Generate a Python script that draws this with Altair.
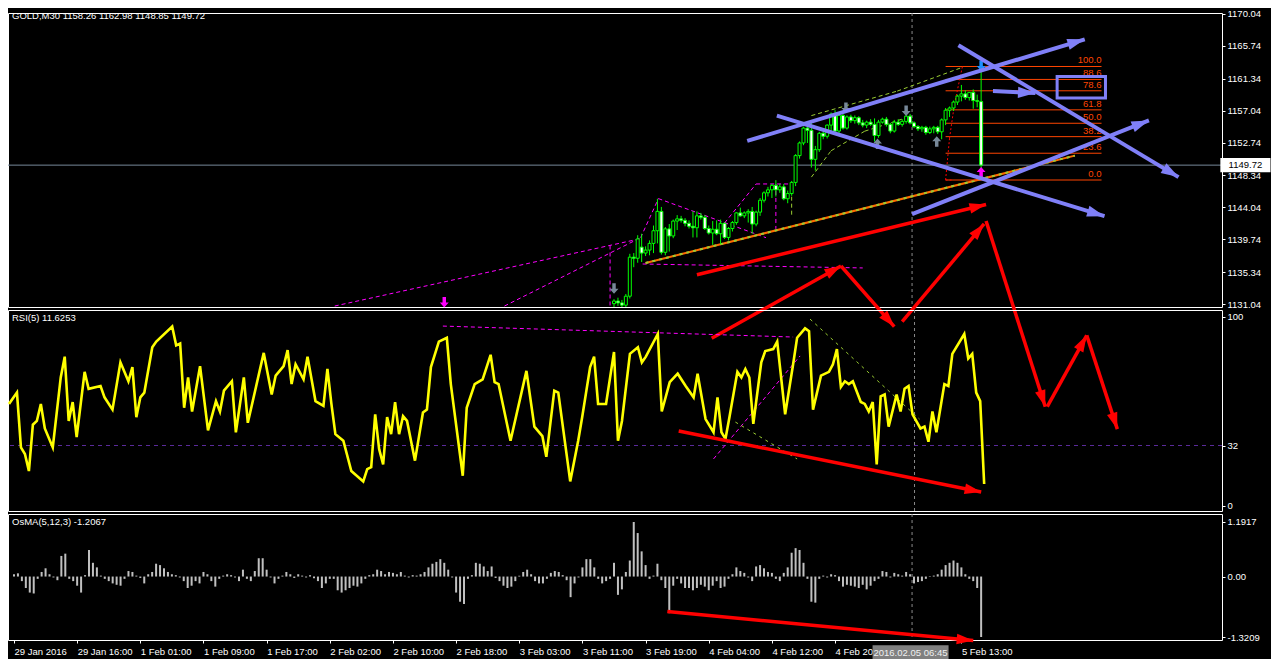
import math
import altair as alt
import pandas as pd

# ============================ data ============================
header_price = "GOLD,M30  1158.26 1162.98 1148.85 1149.72"
header_rsi = "RSI(5) 11.6253"
header_osma = "OsMA(5,12,3) -1.2067"

# bar index: one M30 bar per step, 0 = first bar on screen
date_tick_bars = [0, 16, 32, 48, 64, 80, 96, 112, 128, 144, 160, 176, 192, 208, 240]
date_tick_labels = ["29 Jan 2016", "29 Jan 16:00", "1 Feb 01:00", "1 Feb 09:00", "1 Feb 17:00",
                    "2 Feb 02:00", "2 Feb 10:00", "2 Feb 18:00", "3 Feb 03:00", "3 Feb 11:00",
                    "3 Feb 19:00", "4 Feb 04:00", "4 Feb 12:00", "4 Feb 20", "5 Feb 13:00"]
price_ticks = [1131.04, 1135.34, 1139.74, 1144.04, 1148.34, 1152.74, 1157.04, 1161.34, 1165.74, 1170.04]
rsi_ticks = [0, 32, 100]
osma_ticks = [-1.3209, 0.0, 1.1917]
osma_tick_labels = ["-1.3209", "0.00", "1.1917"]

last_price = 1149.72
crosshair_bar = 227.5
crosshair_label = "2016.02.05 06:45"
rsi_level = 32

candle_bar = list(range(152, 246))
candle_open = [1131.10, 1131.45, 1131.20, 1130.90, 1132.10, 1137.35, 1137.20, 1138.70, 1137.90, 1138.30,
               1139.20, 1140.90, 1143.50, 1138.00, 1141.15, 1140.20, 1142.20, 1142.50, 1142.30, 1141.90,
               1141.50, 1141.30, 1142.90, 1142.70, 1141.20, 1140.60, 1141.10, 1140.50, 1141.90, 1140.00,
               1141.20, 1142.00, 1143.30, 1142.90, 1143.30, 1143.50, 1141.80, 1143.40, 1145.00, 1146.00,
               1146.40, 1147.00, 1146.40, 1146.80, 1145.20, 1145.90, 1147.40, 1151.00, 1152.70, 1154.70,
               1154.40, 1150.50, 1151.80, 1154.00, 1153.60, 1155.10, 1156.60, 1154.30, 1156.40, 1154.70,
               1156.20, 1155.70, 1156.10, 1155.40, 1155.10, 1155.50, 1155.20, 1153.70, 1155.50, 1155.90,
               1155.20, 1154.30, 1155.50, 1155.20, 1155.60, 1156.30, 1155.40, 1154.90, 1154.60, 1154.80,
               1154.10, 1154.60, 1154.80, 1154.20, 1155.80, 1157.10, 1157.40, 1158.20, 1159.00, 1159.30,
               1158.80, 1159.50, 1158.40, 1158.26]
candle_high = [1131.70, 1131.90, 1131.60, 1132.40, 1137.80, 1137.90, 1140.30, 1140.50, 1138.80, 1139.60,
               1141.60, 1145.20, 1144.10, 1141.40, 1141.80, 1142.40, 1143.00, 1142.90, 1142.60, 1142.30,
               1143.50, 1143.50, 1143.30, 1143.00, 1141.60, 1142.20, 1142.30, 1142.40, 1142.00, 1141.40,
               1142.20, 1143.40, 1144.00, 1143.50, 1143.80, 1144.10, 1143.60, 1145.30, 1146.20, 1146.80,
               1147.20, 1147.70, 1147.20, 1147.20, 1146.30, 1147.60, 1151.20, 1152.90, 1154.90, 1155.10,
               1155.60, 1152.30, 1154.20, 1154.40, 1155.20, 1156.80, 1157.10, 1156.80, 1156.60, 1156.40,
               1156.50, 1156.40, 1156.30, 1155.80, 1155.70, 1155.90, 1156.00, 1155.80, 1156.10, 1156.20,
               1155.40, 1155.80, 1155.90, 1155.90, 1156.60, 1156.60, 1155.60, 1155.10, 1155.00, 1155.00,
               1154.90, 1155.00, 1155.00, 1156.00, 1157.40, 1157.60, 1158.40, 1159.20, 1160.50, 1159.80,
               1159.50, 1159.90, 1159.20, 1162.98]
candle_low = [1130.50, 1130.80, 1130.40, 1130.60, 1131.80, 1136.00, 1136.60, 1136.70, 1137.50, 1137.60,
              1137.90, 1139.20, 1137.70, 1137.60, 1138.10, 1139.90, 1141.00, 1142.00, 1141.50, 1141.20,
              1140.00, 1140.00, 1142.40, 1141.00, 1140.40, 1139.00, 1140.30, 1139.10, 1139.80, 1139.60,
              1140.80, 1141.70, 1142.80, 1142.60, 1142.00, 1140.50, 1141.50, 1142.90, 1144.70, 1145.50,
              1145.30, 1145.50, 1146.00, 1145.00, 1144.60, 1145.60, 1146.90, 1150.60, 1152.40, 1152.70,
              1149.40, 1149.00, 1151.50, 1153.20, 1153.30, 1154.00, 1153.90, 1153.80, 1154.50, 1154.50,
              1155.40, 1155.30, 1155.10, 1154.80, 1154.70, 1155.00, 1152.90, 1153.40, 1155.30, 1154.90,
              1154.00, 1154.10, 1155.00, 1154.90, 1155.30, 1155.20, 1154.70, 1154.30, 1154.20, 1153.80,
              1153.90, 1154.00, 1153.90, 1153.20, 1155.10, 1156.20, 1157.00, 1157.80, 1158.30, 1158.50,
              1158.40, 1157.30, 1157.50, 1148.85]
candle_close = [1131.45, 1131.20, 1130.90, 1132.10, 1137.35, 1137.20, 1139.80, 1137.90, 1138.30, 1139.20,
                1140.90, 1143.50, 1138.00, 1141.15, 1140.20, 1142.20, 1142.50, 1142.30, 1141.90, 1141.50,
                1141.30, 1142.90, 1142.70, 1141.20, 1140.60, 1141.10, 1140.50, 1141.90, 1140.00, 1141.20,
                1142.00, 1143.30, 1142.90, 1143.30, 1143.50, 1141.80, 1143.40, 1145.00, 1146.00, 1146.40,
                1147.00, 1146.40, 1146.80, 1145.20, 1145.90, 1147.40, 1151.00, 1152.70, 1154.70, 1154.40,
                1150.50, 1151.80, 1154.00, 1153.60, 1155.10, 1156.60, 1154.30, 1156.40, 1154.70, 1156.20,
                1155.70, 1156.10, 1155.40, 1155.10, 1155.50, 1155.20, 1153.70, 1155.50, 1155.90, 1155.20,
                1154.30, 1155.50, 1155.20, 1155.60, 1156.30, 1155.40, 1154.90, 1154.60, 1154.80, 1154.10,
                1154.60, 1154.80, 1154.20, 1155.80, 1157.10, 1157.40, 1158.20, 1159.00, 1159.30, 1158.80,
                1159.50, 1158.40, 1158.30, 1149.72]

rsi_bar = [0, 2, 3, 4, 5, 6, 7, 8, 9, 11,
           13, 14, 15, 16, 17, 19, 20, 23, 24, 26,
           28, 30, 31, 32, 33, 34, 36, 37, 41, 42,
           43, 44, 45, 46, 48, 50, 52, 53, 54, 56,
           57, 59, 60, 64, 66, 67, 69, 70, 71, 72,
           74, 75, 77, 79, 80, 81, 82, 84, 86, 89,
           90, 91, 92, 93, 94, 95, 96, 97, 98, 99,
           100, 102, 104, 105, 106, 108, 110, 111, 114, 115,
           117, 119, 121, 122, 123, 126, 130, 132, 134, 135,
           137, 138, 141, 143, 144, 146, 147, 148, 150, 152,
           153, 154, 156, 158, 159, 160, 163, 164, 166, 168,
           170, 172, 173, 175, 177, 178, 179, 180, 181, 183,
           184, 185, 186, 187, 189, 190, 192, 193, 195, 197,
           198, 200, 201, 202, 204, 206, 207, 208, 209, 210,
           211, 212, 214, 215, 216, 217, 218, 219, 220, 221,
           223, 224, 225, 226, 227, 229, 230, 231, 232, 233,
           235, 236, 237, 240, 241, 242, 243, 244, 245]
rsi_value = [54, 60, 31, 27.5, 18.5, 43, 45, 54, 41, 31,
             68, 79, 45, 55, 36.5, 71, 62, 63.5, 57.5, 51,
             76, 66, 73.5, 47, 57.5, 60, 84, 87, 95, 85,
             86, 52, 68, 50, 74, 40, 55.5, 50, 61, 66,
             39, 68, 44, 81, 59, 69, 74, 82.5, 64.5, 75,
             67, 79, 55.5, 53, 72.5, 54, 38, 34.5, 18.5, 13,
             19.5, 20.5, 48.5, 30, 22, 47, 38, 55, 38, 47.5,
             45, 24, 49.5, 51, 73.5, 87, 89, 64.5, 16, 52,
             64.5, 67, 80, 65.5, 64.5, 34.5, 71.5, 42, 37, 26,
             61, 60, 13, 34.5, 47, 73.5, 79, 54, 54, 81.5,
             34.5, 45, 80.5, 84, 76, 79, 91, 50, 65.5, 70,
             63.5, 57.5, 70, 46, 39, 57.5, 39, 35.5, 47, 71,
             68, 72.5, 68, 43.5, 76, 82, 83, 87, 48.5, 75,
             89, 94, 92.5, 51, 69, 71, 75, 83, 63, 66,
             64.5, 66, 55, 54, 50, 55, 22, 58, 59, 42,
             59, 50, 62, 63.5, 48.5, 41, 42, 34, 50, 39,
             64.5, 63.5, 80.5, 91, 78, 80.5, 60, 55.5, 11.6253]

osma_value = [0.05, 0.07, -0.10, -0.25, -0.35, -0.37, -0.05, 0.10, 0.18, 0.05, -0.02, -0.08,
              0.45, 0.50, -0.05, -0.10, -0.20, -0.35, 0.03, 0.58, 0.30, 0.20, 0.02, -0.05, -0.10, -0.15,
              -0.18, -0.20, -0.05, 0.12, 0.10, 0.02, -0.03, -0.15,
              0.05, 0.10, 0.28, 0.25, 0.18, 0.10, 0.05, 0.03, -0.02, -0.10, -0.25, -0.20, -0.10, -0.15,
              0.10, 0.05, -0.10, -0.22, -0.05, 0.02, 0.05, 0.03,
              -0.02, -0.10, 0.15, -0.05, -0.10, 0.12, 0.40, 0.40, 0.15, -0.02, -0.15, -0.05, 0.02, 0.10,
              0.05, -0.03, 0.05, 0.02, -0.02, 0.03, -0.04, -0.10,
              -0.25, -0.15, -0.05, -0.05, -0.30, -0.35, -0.30, -0.25, -0.20, -0.22, -0.15, -0.05, 0.03,
              0.05, 0.15, 0.12, 0.05, 0.10, 0.08, 0.05, 0.10, 0.02,
              -0.02, 0.03, 0.02, 0.05, 0.10, 0.20, 0.28, 0.32, 0.38, 0.30, 0.15, -0.02, -0.35, -0.55,
              -0.60, -0.05, 0.03, 0.30, 0.28, 0.22, 0.12, 0.22,
              -0.03, -0.10, -0.20, -0.25, -0.22, -0.10, 0.02, 0.10, 0.15, 0.05, -0.10, -0.15, -0.15,
              -0.05, 0.08, 0.12, 0.10, 0.03, -0.08, -0.45, -0.15, -0.02,
              0.20, 0.38, 0.38, 0.20, -0.05, -0.15, -0.10, -0.05, 0.30, -0.40, -0.28, 0.10, 0.35, 1.1917,
              0.95, 0.55, 0.25, -0.05, 0.02, 0.28, -0.08, -0.25, -0.80, -0.20,
              -0.05, -0.15, -0.25, -0.25, -0.30, -0.25, -0.18, -0.22, -0.30, -0.20, -0.10, -0.25, -0.22,
              -0.05, 0.05, 0.20, 0.12, 0.08, -0.02, -0.10,
              0.22, 0.25, 0.18, 0.10, 0.08, -0.05, -0.10, 0.08, 0.20, 0.52, 0.62, 0.58, 0.30, -0.05,
              -0.55, -0.57, -0.05, 0.02, -0.02, 0.05, 0.03, -0.10,
              -0.22, -0.18, -0.20, -0.22, -0.25, -0.18, -0.28, -0.20, -0.10, -0.05, 0.12, 0.10, -0.02,
              0.08, 0.05, 0.02, 0.10, 0.05, -0.15, -0.12, -0.10, -0.05,
              0.01, 0.02, 0.05, 0.15, 0.25, 0.30, 0.35, 0.30, 0.20, 0.05, -0.05, -0.10, -0.25, -1.3209]
osma_bar = list(range(len(osma_value)))

# Fibonacci retracement drawn on the last swing
fib_low, fib_high = 1147.72, 1162.98
fib_levels = [0.0, 23.6, 38.2, 50.0, 61.8, 78.6, 88.6, 100.0]
fib_from_bar, fib_to_bar = 236, 275.5

# drawn objects (bar, value) -> (bar, value)
trend_line = [(160, 1136.56, 268.75, 1151.00)]
blue_arrows = [(185.75, 1152.97, 271.25, 1166.63), (193.25, 1156.38, 276.25, 1142.86),
               (239.25, 1165.84, 295.0, 1148.11), (227.5, 1143.12, 287.5, 1155.73),
               (248.0, 1159.67, 258.75, 1159.40)]
blue_box = [(264.25, 1161.64, 276.5, 1158.75)]
red_price_arrows = [(173.0, 1134.98, 246.25, 1144.43), (176.75, 1126.45, 209.5, 1136.16),
                    (209.5, 1136.16, 223.0, 1128.02), (225.0, 1128.68, 245.75, 1141.81),
                    (246.25, 1142.20, 261.25, 1117.25), (261.75, 1117.25, 271.75, 1126.84),
                    (271.75, 1126.84, 279.5, 1114.23)]
red_rsi_arrows = [(168.25, 39.7, 244.25, 7.4)]
red_osma_arrows = [(165.5, -0.765, 243.0, -1.398)]
magenta_price_dash = [(81.25, 1130.78, 158.75, 1139.84), (124.25, 1130.78, 158.75, 1139.97),
                      (158.75, 1139.97, 163.25, 1145.22), (163.25, 1145.22, 190.5, 1139.97),
                      (180.0, 1141.94, 188.0, 1147.19), (188.0, 1147.19, 196.25, 1147.19),
                      (193.0, 1147.19, 193.0, 1141.15), (151.0, 1138.92, 151.0, 1130.78),
                      (159.25, 1136.43, 215.0, 1135.90)]
green_price_dash = [(202.0, 1156.38, 223.75, 1159.67), (223.75, 1159.67, 240.0, 1162.82),
                    (202.0, 1148.11, 207.0, 1151.66), (207.0, 1151.66, 215.5, 1154.28),
                    (215.5, 1154.28, 227.0, 1156.25), (197.0, 1145.48, 197.0, 1142.86)]
red_fib_dots = [(236.0, 1147.72, 237.0, 1153.36), (237.0, 1153.36, 238.25, 1157.96),
                (238.25, 1157.96, 240.25, 1162.95), (236.0, 1147.72, 237.5, 1147.72)]
magenta_rsi_dash = [(109.0, 95.2, 197.0, 89.4), (177.0, 24.9, 198.75, 79.4)]
green_rsi_dash = [(201.25, 98.9, 228.75, 46.0), (182.5, 44.4, 198.0, 24.9)]

gray_down_marks = [(152.0, 1133.14), (210.75, 1157.43), (226.0, 1157.04)]
gray_up_marks = [(218.75, 1152.58), (233.75, 1152.90)]
magenta_down_marks = [(109.0, 1131.30)]
magenta_up_marks = [(245.0, 1148.77)]
blue_down_marks = [(245.0, 1163.08)]

# ============================ layout ============================
W = 1214
H_P, H_R, H_O = 294, 201, 126
X_DOM = [-0.25, 304.75]
P_DOM = [1130.65, 1170.17]
R_DOM = [-2.65, 103.7]
O_DOM = [-1.386, 1.366]
FONT = "Liberation Sans"
FS = 9.5
LIME = "#00ff00"
BLUE = "#8080f8"
RED = "#ff0000"
MAG = "#ff00ff"
YG = "#9acd32"
FIBC = "#ff4500"

PX_X = W / (X_DOM[1] - X_DOM[0])
PY_P = H_P / (P_DOM[1] - P_DOM[0])
PY_R = H_R / (R_DOM[1] - R_DOM[0])
PY_O = H_O / (O_DOM[1] - O_DOM[0])

HEAD = "M0,0L0.55,1.7L-0.55,1.7Z"
DOWN = "M-0.33,-1L0.33,-1L0.33,0.05L0.85,0.05L0,1L-0.85,0.05L-0.33,0.05Z"
UP = "M-0.33,1L0.33,1L0.33,-0.05L0.85,-0.05L0,-1L-0.85,-0.05L-0.33,-0.05Z"


def xs():
    return alt.Scale(domain=X_DOM, nice=False, zero=False)


def ys(dom):
    return alt.Scale(domain=dom, nice=False, zero=False)


def right_axis(values, fmt=None, expr=None):
    kw = dict(orient="right", values=values, title=None, grid=False, domain=False,
              tickColor="white", tickSize=3, labelColor="white", labelFont=FONT,
              labelFontSize=FS, labelPadding=2, labelOverlap=False, labelFlush=False)
    if fmt:
        kw["format"] = fmt
    if expr:
        kw["labelExpr"] = expr
    return alt.Axis(**kw)


price_axis = right_axis(price_ticks, fmt=".2f")
rsi_axis = right_axis(rsi_ticks, fmt="d")
osma_axis = right_axis(osma_ticks, expr="%s[indexof(%s, datum.value)]" % (
    str(osma_tick_labels), str(osma_ticks)))
date_axis = alt.Axis(orient="bottom", values=date_tick_bars, title=None, grid=False, domain=False,
                     tickColor="white", tickSize=3, labelColor="white", labelFont=FONT,
                     labelFontSize=FS, labelAlign="left", labelPadding=3, labelOverlap=False,
                     labelFlush=False,
                     labelExpr="%s[indexof(%s, datum.value)]" % (str(date_tick_labels), str(date_tick_bars)))


def seg_df(segs):
    return pd.DataFrame(segs, columns=["x1", "y1", "x2", "y2"])


def segments(segs, dom, xaxis, yaxis, color, width, dash=None):
    kw = dict(color=color, strokeWidth=width)
    if dash:
        kw["strokeDash"] = dash
    return alt.Chart(seg_df(segs)).mark_rule(**kw).encode(
        x=alt.X("x1:Q", scale=xs(), axis=xaxis), x2="x2:Q",
        y=alt.Y("y1:Q", scale=ys(dom), axis=yaxis), y2="y2:Q")


def heads(segs, dom, py, xaxis, yaxis, color, size):
    rows = []
    for x1, y1, x2, y2 in segs:
        ang = math.degrees(math.atan2((x2 - x1) * PX_X, (y2 - y1) * py)) % 360
        rows.append({"x": x2, "y": y2, "ang": ang})
    return alt.Chart(pd.DataFrame(rows)).mark_point(
        shape=HEAD, filled=True, color=color, size=size, opacity=1).encode(
        x=alt.X("x:Q", scale=xs(), axis=xaxis),
        y=alt.Y("y:Q", scale=ys(dom), axis=yaxis),
        angle=alt.Angle("ang:Q", scale=None))


def glyphs(points, shape, color, size, dom, xaxis, yaxis):
    return alt.Chart(pd.DataFrame(points, columns=["x", "y"])).mark_point(
        shape=shape, filled=True, color=color, size=size, opacity=1).encode(
        x=alt.X("x:Q", scale=xs(), axis=xaxis),
        y=alt.Y("y:Q", scale=ys(dom), axis=yaxis))


def header(text, ypos):
    return alt.Chart(pd.DataFrame({"t": [text]})).mark_text(
        align="left", baseline="middle", color="white", font=FONT, fontSize=FS).encode(
        x=alt.value(4), y=alt.value(ypos), text="t:N")


def vline(dom, yaxis, xaxis):
    return alt.Chart(pd.DataFrame({"x": [crosshair_bar]})).mark_rule(
        color="#8a8a8a", strokeWidth=1, strokeDash=[3, 3]).encode(
        x=alt.X("x:Q", scale=xs(), axis=xaxis))


# ============================ price panel ============================
candles = pd.DataFrame({"bar": candle_bar, "open": candle_open, "high": candle_high,
                        "low": candle_low, "close": candle_close})
cbase = alt.Chart(candles).transform_calculate(
    dir="datum.close >= datum.open ? 'bull' : 'bear'")
wicks = cbase.mark_rule(color=LIME, strokeWidth=1, clip=True).encode(
    x=alt.X("bar:Q", scale=xs(), axis=None),
    y=alt.Y("low:Q", scale=ys(P_DOM), axis=price_axis), y2="high:Q")
bodies = cbase.mark_bar(size=3, stroke=LIME, strokeWidth=1, clip=True).encode(
    x=alt.X("bar:Q", scale=xs(), axis=None),
    y=alt.Y("open:Q", scale=ys(P_DOM), axis=price_axis), y2="close:Q",
    color=alt.Color("dir:N", scale=alt.Scale(domain=["bull", "bear"], range=["black", "white"]),
                    legend=None))

price_line = alt.Chart(pd.DataFrame({"p": [last_price]})).mark_rule(
    color="#778899", strokeWidth=1).encode(y=alt.Y("p:Q", scale=ys(P_DOM), axis=price_axis))

fib = alt.Chart(pd.DataFrame({"level": fib_levels})).transform_calculate(
    price="%f + (%f - %f) * datum.level / 100" % (fib_low, fib_high, fib_low),
    xa="%f" % fib_from_bar, xb="%f" % fib_to_bar)
fib_lines = fib.mark_rule(color=FIBC, strokeWidth=1).encode(
    x=alt.X("xa:Q", scale=xs(), axis=None), x2="xb:Q",
    y=alt.Y("price:Q", scale=ys(P_DOM), axis=price_axis))
fib_text = fib.mark_text(color=FIBC, align="right", baseline="bottom", dy=-1,
                         font=FONT, fontSize=FS).encode(
    x=alt.X("xb:Q", scale=xs(), axis=None),
    y=alt.Y("price:Q", scale=ys(P_DOM), axis=price_axis),
    text=alt.Text("level:Q", format=".1f"))

box_df = pd.DataFrame(blue_box, columns=["x1", "y1", "x2", "y2"])
box = alt.Chart(box_df).mark_rect(filled=False, stroke=BLUE, strokeWidth=3).encode(
    x=alt.X("x1:Q", scale=xs(), axis=None), x2="x2:Q",
    y=alt.Y("y1:Q", scale=ys(P_DOM), axis=price_axis), y2="y2:Q")

tag_df = pd.DataFrame({"x1": [305.6], "x2": [318.3], "y1": [last_price - 0.95],
                       "y2": [last_price + 0.95], "xm": [311.95], "p": [last_price],
                       "t": ["%.2f" % last_price]})
tag_rect = alt.Chart(tag_df).mark_rect(color="white").encode(
    x=alt.X("x1:Q", scale=xs(), axis=None), x2="x2:Q",
    y=alt.Y("y1:Q", scale=ys(P_DOM), axis=price_axis), y2="y2:Q")
tag_text = alt.Chart(tag_df).mark_text(color="black", font=FONT, fontSize=FS, baseline="middle").encode(
    x=alt.X("xm:Q", scale=xs(), axis=None),
    y=alt.Y("p:Q", scale=ys(P_DOM), axis=price_axis), text="t:N")

trend_orange = segments(trend_line, P_DOM, None, price_axis, "#ff6a00", 2)
trend_green = segments(trend_line, P_DOM, None, price_axis, YG, 2, [3, 4])

price_panel = alt.layer(
    price_line,
    vline(P_DOM, price_axis, None),
    segments(magenta_price_dash, P_DOM, None, price_axis, MAG, 1, [4, 3]),
    segments(green_price_dash, P_DOM, None, price_axis, YG, 1, [4, 3]),
    trend_orange, trend_green,
    fib_lines, fib_text,
    segments(red_fib_dots, P_DOM, None, price_axis, RED, 1, [2, 2]),
    wicks, bodies,
    glyphs(gray_down_marks, DOWN, "#778899", 110, P_DOM, None, price_axis),
    glyphs(gray_up_marks, UP, "#778899", 110, P_DOM, None, price_axis),
    glyphs(magenta_down_marks, DOWN, MAG, 110, P_DOM, None, price_axis),
    glyphs(magenta_up_marks, UP, MAG, 110, P_DOM, None, price_axis),
    glyphs(blue_down_marks, DOWN, "#1e90ff", 110, P_DOM, None, price_axis),
    segments(blue_arrows, P_DOM, None, price_axis, BLUE, 4),
    heads(blue_arrows, P_DOM, PY_P, None, price_axis, BLUE, 420),
    box,
    segments(red_price_arrows, P_DOM, None, price_axis, RED, 3.5),
    heads(red_price_arrows, P_DOM, PY_P, None, price_axis, RED, 380),
    header(header_price, 3),
    tag_rect, tag_text,
).properties(width=W, height=H_P)

# ============================ RSI panel ============================
rsi_df = pd.DataFrame({"bar": rsi_bar, "rsi": rsi_value})
rsi_line = alt.Chart(rsi_df).mark_line(color="#ffff00", strokeWidth=2.6).encode(
    x=alt.X("bar:Q", scale=xs(), axis=None),
    y=alt.Y("rsi:Q", scale=ys(R_DOM), axis=rsi_axis))
rsi_lvl = alt.Chart(pd.DataFrame({"lvl": [rsi_level]})).mark_rule(
    color="#5a2a9a", strokeWidth=1, strokeDash=[4, 4]).encode(
    y=alt.Y("lvl:Q", scale=ys(R_DOM), axis=rsi_axis))

rsi_panel = alt.layer(
    rsi_lvl,
    vline(R_DOM, rsi_axis, None),
    segments(magenta_rsi_dash, R_DOM, None, rsi_axis, MAG, 1, [4, 3]),
    segments(green_rsi_dash, R_DOM, None, rsi_axis, YG, 1, [3, 4]),
    rsi_line,
    segments(red_rsi_arrows, R_DOM, None, rsi_axis, RED, 3.5),
    heads(red_rsi_arrows, R_DOM, PY_R, None, rsi_axis, RED, 380),
    header(header_rsi, 8),
).properties(width=W, height=H_R)

# ============================ OsMA panel ============================
osma_df = pd.DataFrame({"bar": osma_bar, "osma": osma_value, "zero": 0.0})
osma_bars = alt.Chart(osma_df).mark_bar(size=2, color="#c0c0c0").encode(
    x=alt.X("bar:Q", scale=xs(), axis=date_axis),
    y=alt.Y("osma:Q", scale=ys(O_DOM), axis=osma_axis), y2="zero:Q")

cross_df = pd.DataFrame({"x1": [217.5], "x2": [236.75], "y1": [-1.50], "y2": [-1.83],
                         "xm": [227.1], "ym": [-1.665], "t": [crosshair_label]})
cross_rect = alt.Chart(cross_df).mark_rect(color="#808080").encode(
    x=alt.X("x1:Q", scale=xs(), axis=date_axis), x2="x2:Q",
    y=alt.Y("y1:Q", scale=ys(O_DOM), axis=osma_axis), y2="y2:Q")
cross_text = alt.Chart(cross_df).mark_text(color="#f0f0f0", font=FONT, fontSize=FS,
                                           baseline="middle").encode(
    x=alt.X("xm:Q", scale=xs(), axis=date_axis),
    y=alt.Y("ym:Q", scale=ys(O_DOM), axis=osma_axis), text="t:N")

osma_panel = alt.layer(
    vline(O_DOM, osma_axis, date_axis),
    osma_bars,
    segments(red_osma_arrows, O_DOM, date_axis, osma_axis, RED, 3.5),
    heads(red_osma_arrows, O_DOM, PY_O, date_axis, osma_axis, RED, 380),
    cross_rect, cross_text,
    header(header_osma, 8),
).properties(width=W, height=H_O)

chart = alt.vconcat(price_panel, rsi_panel, osma_panel, spacing=3, bounds="flush").properties(
    padding={"left": -5, "top": 0, "right": 0, "bottom": 0}
).configure(background="black").configure_view(stroke="white", strokeWidth=1)

chart.save("out.html", embed_options={"renderer": "svg", "actions": False})
